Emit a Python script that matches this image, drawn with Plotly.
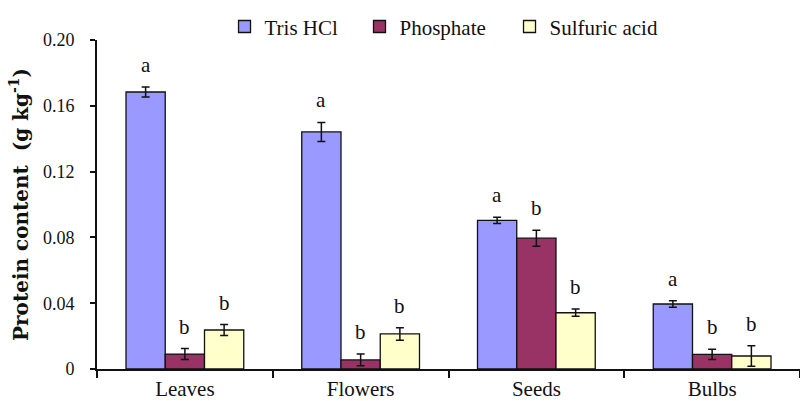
import plotly.graph_objects as go

categories = ["Leaves", "Flowers", "Seeds", "Bulbs"]
series_names = ["Tris HCl", "Phosphate", "Sulfuric acid"]
tris = [0.1684, 0.1441, 0.0904, 0.0395]
tris_err = [0.0031, 0.0058, 0.0019, 0.0020]
phos = [0.0091, 0.0055, 0.0795, 0.0089]
phos_err = [0.0033, 0.0036, 0.0049, 0.0031]
sulf = [0.0237, 0.0213, 0.0342, 0.0079]
sulf_err = [0.0033, 0.0038, 0.0022, 0.0062]
letters = [["a", "b", "b"], ["a", "b", "b"], ["a", "b", "b"], ["a", "b", "b"]]
tick_vals = [0, 0.04, 0.08, 0.12, 0.16, 0.20]
tick_text = ["0", "0.04", "0.08", "0.12", "0.16", "0.20"]

colors = ["#9999FF", "#993366", "#FFFFCC"]
FONT = "Liberation Serif"
INK = "#111111"

values = [tris, phos, sulf]
errors = [tris_err, phos_err, sulf_err]
legend_ids = ["legend", "legend2", "legend3"]
legend_x = [0.1814, 0.3734, 0.5868]

fig = go.Figure()
for name, vals, errs, col, lid in zip(series_names, values, errors, colors, legend_ids):
    fig.add_trace(go.Bar(
        name=name, x=categories, y=vals, legend=lid,
        marker=dict(color=col, line=dict(color=INK, width=1.3)),
        error_y=dict(type="data", array=errs, color=INK, thickness=1.5, width=4),
    ))

# plot geometry for letter offsets
W, H = 800, 401
ml, mr, mt, mb = 97, 0, 40, 32
plot_w = W - ml - mr
bargap = 0.33
cat_w = plot_w / len(categories)
bar_w = cat_w * (1 - bargap) / 3
shifts = [-bar_w, 0, bar_w]

for ci, cat in enumerate(categories):
    for si in range(3):
        fig.add_annotation(
            x=cat, y=values[si][ci] + errors[si][ci], xref="x", yref="y",
            text=letters[ci][si], showarrow=False, xshift=shifts[si],
            yanchor="bottom", yshift=8,
            font=dict(family=FONT, size=21, color=INK),
        )

legend_style = dict(orientation="h", xanchor="left", y=1.04, yanchor="middle",
                    font=dict(family=FONT, size=21, color=INK),
                    bgcolor="rgba(0,0,0,0)", borderwidth=0)

fig.update_layout(
    width=W, height=H,
    margin=dict(l=ml, r=mr, t=mt, b=mb, autoexpand=False),
    paper_bgcolor="white", plot_bgcolor="white",
    barmode="group", bargap=bargap, bargroupgap=0,
    showlegend=True,
    legend=dict(x=legend_x[0], **legend_style),
    legend2=dict(x=legend_x[1], **legend_style),
    legend3=dict(x=legend_x[2], **legend_style),
    font=dict(family=FONT, color=INK),
)
fig.update_xaxes(
    showline=True, linecolor=INK, linewidth=2, automargin=False,
    ticks="outside", tickson="boundaries", ticklen=7, tickwidth=2, tickcolor=INK,
    tickfont=dict(family=FONT, size=21, color=INK), ticklabelstandoff=0,
    showgrid=False, zeroline=False,
)
fig.update_yaxes(
    range=[0, 0.2], showline=True, linecolor=INK, linewidth=2, automargin=False,
    ticks="outside", ticklen=5, tickwidth=2, tickcolor=INK,
    tickvals=tick_vals, ticktext=tick_text, ticklabelstandoff=12,
    tickfont=dict(family=FONT, size=18, color=INK),
    showgrid=False, zeroline=False,
    title=dict(text="<b>Protein content  (g kg<sup>-1</sup>)</b>",
               font=dict(family="DejaVu Serif", size=20, color=INK), standoff=9),
)

fig.write_html(
    "out.html",
    config={"displayModeBar": False},
    post_script="document.body.style.margin='0';document.body.style.overflow='hidden';",
)
